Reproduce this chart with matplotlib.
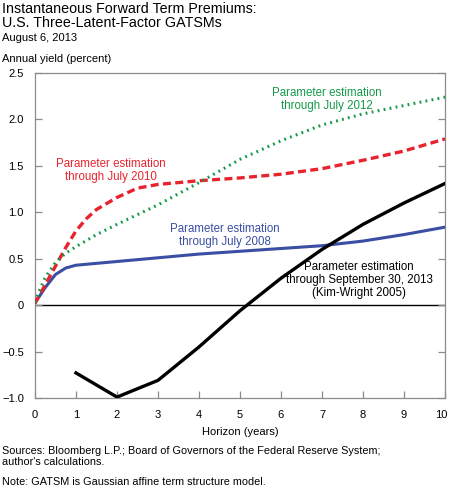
import matplotlib
matplotlib.use('Agg')
import matplotlib.pyplot as plt
from matplotlib.transforms import ScaledTranslation

plt.rcParams['font.family'] = ['Liberation Sans', 'DejaVu Sans']

# Данные
h_2008 = [0, 0.1, 0.25, 0.5, 0.75, 1, 2, 3, 4, 5, 6, 7, 8, 9, 10]
v_2008 = [0.03, 0.09, 0.19, 0.33, 0.40, 0.43, 0.47, 0.51, 0.55, 0.58, 0.61, 0.64, 0.69, 0.76, 0.84]

h_2010 = [0, 0.1, 0.25, 0.5, 0.75, 1, 1.25, 1.5, 2, 2.5, 3, 4, 5, 6, 7, 8, 9, 10]
v_2010 = [0.02, 0.10, 0.22, 0.42, 0.62, 0.80, 0.93, 1.03, 1.16, 1.26, 1.30, 1.34, 1.37, 1.41, 1.47, 1.56, 1.66, 1.79]

h_2012 = [0, 0.1, 0.25, 0.5, 0.75, 1, 1.5, 2, 3, 4, 5, 6, 7, 8, 9, 10]
v_2012 = [0.03, 0.15, 0.30, 0.46, 0.56, 0.63, 0.76, 0.87, 1.08, 1.32, 1.57, 1.77, 1.94, 2.06, 2.15, 2.24]

h_kw = [1, 2, 3, 4, 5, 6, 7, 8, 9, 10]
v_kw = [-0.73, -0.99, -0.81, -0.45, -0.06, 0.29, 0.60, 0.87, 1.10, 1.31]

yticks = [2.5, 2.0, 1.5, 1.0, 0.5, 0, -0.5, -1.0]
ytick_labels = ['2.5', '2.0', '1.5', '1.0', '0.5', '0', '\u22120.5', '\u22121.0']

green = '#14994a'
red = '#e8232e'
blue = '#3a4ea3'

fig = plt.figure(figsize=(4.5, 4.92), dpi=100)
ax = fig.add_axes([35 / 450, 94 / 492, 410 / 450, 325 / 492])

ax.axhline(0, color='black', lw=1.0, zorder=1)
ax.plot(h_2008, v_2008, color=blue, lw=2.2, zorder=3)
ax.plot(h_2010, v_2010, color=red, lw=2.4, ls=(0, (2.4, 1.3)), zorder=3)
ax.plot(h_2012, v_2012, color=green, lw=2.2, ls=(0, (0.6, 1.4)), zorder=3)
ax.plot(h_kw, v_kw, color='black', lw=2.4, zorder=4)

ax.set_xlim(0, 10)
ax.set_ylim(-1.0, 2.5)
ax.set_xticks(range(0, 11))
ax.set_yticks(yticks)
ax.set_yticklabels(ytick_labels)

for s in ax.spines.values():
    s.set_color('#8c8c8c')
    s.set_linewidth(0.9)

ax.tick_params(axis='both', direction='in', length=5, width=0.9, color='#8c8c8c',
               labelsize=8, labelcolor='black')
ax.tick_params(axis='x', pad=9)
ax.tick_params(axis='y', pad=8, right=True)

# подпись "10" чуть левее, чтобы не обрезалась
last = ax.get_xticklabels()[-1]
last.set_transform(last.get_transform() + ScaledTranslation(-4 / 100, 0, fig.dpi_scale_trans))

ax.set_xlabel('Horizon (years)', fontsize=8, labelpad=5)

fs = 8.3
ax.text(7.12, 2.21, 'Parameter estimation\nthrough July 2012', color=green, fontsize=fs,
        ha='center', va='center', linespacing=1.1)
ax.text(1.84, 1.45, 'Parameter estimation\nthrough July 2010', color=red, fontsize=fs,
        ha='center', va='center', linespacing=1.1)
ax.text(4.64, 0.75, 'Parameter estimation\nthrough July 2008', color=blue, fontsize=fs,
        ha='center', va='center', linespacing=1.1)
ax.text(7.91, 0.27, 'Parameter estimation\nthrough September 30, 2013\n(Kim-Wright 2005)',
        color='black', fontsize=fs, ha='center', va='center', linespacing=1.1)

fig.text(0.005, 1 - 2 / 492, 'Instantaneous Forward Term Premiums:\nU.S. Three-Latent-Factor GATSMs',
         fontsize=10.3, ha='left', va='top', linespacing=1.0)
fig.text(0.005, 1 - 33 / 492, 'August 6, 2013', fontsize=8, ha='left', va='top')
fig.text(0.005, 1 - 54 / 492, 'Annual yield (percent)', fontsize=8, ha='left', va='top')

fig.text(0.005, 1 - 446 / 492,
         "Sources: Bloomberg L.P.; Board of Governors of the Federal Reserve System;\nauthor's calculations.",
         fontsize=7.8, ha='left', va='top', linespacing=1.1)
fig.text(0.005, 1 - 477 / 492, 'Note: GATSM is Gaussian affine term structure model.',
         fontsize=7.8, ha='left', va='top')

fig.savefig('out.png', dpi=100)
